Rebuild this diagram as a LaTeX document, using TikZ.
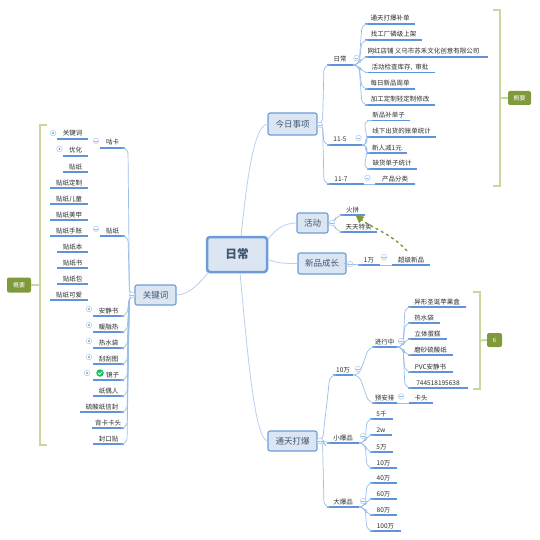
\documentclass[tikz,border=0pt]{standalone}
\usepackage{fontspec}
\setmainfont{Noto Sans CJK SC}
\usetikzlibrary{calc,arrows.meta}
\definecolor{ul}{HTML}{5F94DC}
\definecolor{cn}{HTML}{9BBDE8}
\definecolor{mc}{HTML}{B7D0F0}
\definecolor{bx}{HTML}{6B9CD8}
\definecolor{bf}{HTML}{DCE6F2}
\definecolor{bt}{HTML}{3F5573}
\definecolor{tx}{HTML}{2B2B2B}
\definecolor{ol}{HTML}{7F9A3A}
\definecolor{br}{HTML}{C6D89C}
\definecolor{okc}{HTML}{12C25E}
\tikzset{
  uline/.style={draw=ul,line width=1.1pt},
  leaf/.style={inner sep=0pt,outer sep=0pt,anchor=south,align=center,text=tx,
    font=\fontsize{6.5}{7}\selectfont,text height=6pt,text depth=3pt,
    append after command={(\tikzlastnode.south west) edge[uline] (\tikzlastnode.south east)}},
  conn/.style={draw=cn,line width=0.7pt,rounded corners=6pt},
  mainc/.style={draw=mc,line width=0.8pt},
  topic/.style={draw=bx,line width=1.1pt,fill=bf,rounded corners=2pt,inner sep=0pt,text=bt,
    font=\fontsize{8.5}{10}\selectfont},
  rootbox/.style={draw=bx,line width=2.5pt,fill=bf,rounded corners=3pt,inner sep=0pt,text=bt,
    font=\fontsize{11.7}{13}\selectfont\bfseries},
  coll/.style={circle,draw=mc,line width=0.6pt,fill=white,minimum size=5.6pt,inner sep=0pt,
    path picture={\draw[draw=cn,line width=0.5pt] ($(path picture bounding box.center)+(-1.8,0)$) -- ($(path picture bounding box.center)+(1.8,0)$);}},
  expd/.style={circle,draw=mc,line width=0.6pt,fill=white,minimum size=5.6pt,inner sep=0pt,
    path picture={\fill[fill=bx!70!black] (path picture bounding box.center) circle (0.9pt);}},
  brace/.style={draw=br,line width=2pt},
  tag/.style={fill=ol,rounded corners=2pt,inner sep=0pt,text=white,font=\fontsize{6}{7}\selectfont\itshape},
  depend/.style={draw=ol,line width=1.4pt,dashed,-{Triangle[length=8pt,width=8pt]}}
}
\newcommand{\leaf}[5]{\pgfmathsetmacro{\lw}{#3-#2}\pgfmathsetmacro{\lc}{(#2+#3)/2}\node[leaf,minimum width=\lw pt] (#1) at (\lc,#4) {#5};}
\newcommand{\topicnode}[6]{\pgfmathsetmacro{\lw}{#4-#2}\pgfmathsetmacro{\lh}{#5-#3}\pgfmathsetmacro{\lc}{(#2+#4)/2}\pgfmathsetmacro{\ld}{(#3+#5)/2}\node[topic,minimum width=\lw pt,minimum height=\lh pt] (#1) at (\lc,\ld) {#6};}
\newcommand{\rc}[2]{\draw[conn] (#1.south east) -- ++(6,0) -- ($(#2.south west)+(-3,0)$) -- (#2.south west);}
\newcommand{\lc}[2]{\draw[conn] (#1.south west) -- ++(-6,0) -- ($(#2.south east)+(3,0)$) -- (#2.south east);}
\newcommand{\rb}[2]{\draw[conn] (#1.east) -- ++(5,0) -- ($(#2.south west)+(-3,0)$) -- (#2.south west);}
\newcommand{\lb}[2]{\draw[conn] (#1.west) -- ++(-5,0) -- ($(#2.south east)+(3,0)$) -- (#2.south east);}
\newcommand{\mk}[4][coll]{\node[#1] (#2) at (#3,#4) {};}
\begin{document}
\begin{tikzpicture}[x=1pt,y=-1pt]
\useasboundingbox (0,0) rectangle (539,540);
% topics
\node[rootbox,minimum width=60pt,minimum height=35pt] (root) at (237,254.5) {日常};
\topicnode{today}{268}{113}{317}{135}{今日事项}
\topicnode{event}{297}{213}{328}{233}{活动}
\topicnode{growth}{298}{253}{346}{274}{新品成长}
\topicnode{boom}{268}{431}{317}{451}{通天打爆}
\topicnode{kw}{135}{285}{176}{305}{关键词}
\draw[mainc] ($(root.north)+(4,0)$) .. controls +(6,-55) and +(-14,2) .. (today.west);
\draw[mainc] ($(root.north east)+(0,3)$) .. controls +(8,-10) and +(-12,0) .. (event.west);
\draw[mainc] ($(root.east)+(0,5)$) .. controls +(10,4) and +(-12,0) .. (growth.west);
\draw[mainc] ($(root.south)+(3,0)$) .. controls +(6,60) and +(-14,-2) .. (boom.west);
\draw[mainc] ($(root.south west)+(2,0)$) .. controls +(-8,10) and +(12,0) .. (kw.east);
% today
\leaf{daily}{327}{353}{65}{日常}
\leaf{d1}{365}{415}{24}{通天打爆补单}
\leaf{d2}{365}{422}{40}{找工厂磷级上架}
\leaf{d3}{365}{488}{57}{\hspace{-6pt}网红店铺 义乌市苏禾文化创意有限公司}
\leaf{d4}{365}{435}{72.5}{活动检查库存,\hspace{3pt}审批}
\leaf{d5}{365}{415}{89}{每日新品周单}
\leaf{d6}{365}{435}{105}{加工定制轻定制修改}
\leaf{nov5}{327}{362}{145}{\hspace{-9pt}11-5}
\leaf{n1}{367}{410}{120.5}{新品补单子}
\leaf{n2}{367}{436}{137}{线下出货的账单统计}
\leaf{n3}{367}{407}{153}{新人减1元}
\leaf{n4}{367}{417}{169}{缺货单子统计}
\leaf{nov7}{327}{364}{184}{\hspace{-9pt}11-7}
\leaf{cat}{375}{415}{184}{产品分类}
\rb{today}{daily}\rb{today}{nov5}\rb{today}{nov7}
\rc{daily}{d1}\rc{daily}{d2}\rc{daily}{d3}\rc{daily}{d4}\rc{daily}{d5}\rc{daily}{d6}
\rc{nov5}{n1}\rc{nov5}{n2}\rc{nov5}{n3}\rc{nov5}{n4}
\draw[conn] (nov7.south east) -- (cat.south west);
\mk{ct}{320}{125}\mk{cd}{356.5}{58}\mk{cn5}{358.5}{138}\mk{cn7}{367.5}{178}
% event
\leaf{fire}{340}{365}{215}{火拼}
\leaf{sale}{340}{377}{232}{天天特卖}
\rb{event}{fire}\rb{event}{sale}
\mk{ce}{332}{223}
% growth
\leaf{wan}{358}{380}{265}{1万}
\leaf{super}{392}{430}{265}{超级新品}
\draw[conn] (growth.east) -- ++(3,0) -- ($(wan.south west)+(-3,0)$) -- (wan.south west);
\draw[conn] (wan.south east) -- (super.south west);
\mk{cg}{350}{264}\mk{cw}{384}{257}
\draw[depend] ($(super.north)+(-4,-5)$) .. controls (392,234) and (372,228) .. ($(fire.south)+(3,0)$);
% boom
\leaf{ten}{333}{353}{375}{10万}
\leaf{prog}{372}{397}{347}{进行中}
\leaf{plan}{372}{397}{403}{预安排}
\leaf{head}{409}{433}{403}{卡头}
\leaf{p1}{408}{466}{307}{异形圣诞苹果盒}
\leaf{p2}{408}{440}{323}{热水袋}
\leaf{p3}{408}{447}{339}{立体蛋糕}
\leaf{p4}{408}{453}{355}{磨砂硫酸纸}
\leaf{p5}{408}{453}{372}{PVC安静书}
\leaf{p6}{408}{468}{388}{744518195638}
\leaf{small}{327}{359}{443}{小爆品}
\leaf{s1}{370}{393}{419}{5千}
\leaf{s2}{370}{392}{435}{2w}
\leaf{s3}{370}{393}{452}{5万}
\leaf{s4}{370}{397}{468}{10万}
\leaf{big}{327}{359}{507}{大爆品}
\leaf{b1}{370}{397}{483}{40万}
\leaf{b2}{370}{397}{499}{60万}
\leaf{b3}{370}{397}{515}{80万}
\leaf{b4}{370}{401}{531}{100万}
\rb{boom}{ten}\rb{boom}{small}\rb{boom}{big}
\rc{ten}{prog}\rc{ten}{plan}
\draw[conn] (plan.south east) -- (head.south west);
\rc{prog}{p1}\rc{prog}{p2}\rc{prog}{p3}\rc{prog}{p4}\rc{prog}{p5}\rc{prog}{p6}
\rc{small}{s1}\rc{small}{s2}\rc{small}{s3}\rc{small}{s4}
\rc{big}{b1}\rc{big}{b2}\rc{big}{b3}\rc{big}{b4}
\mk{cb}{320}{441}\mk{cten}{358}{369}\mk{cprog}{401}{341}\mk{cplan}{401}{396.5}\mk{csmall}{363}{436}\mk{cbig}{363}{501}
% keywords
\leaf{guka}{100}{125}{148}{咕卡}
\leaf{kw1}{57}{88}{139}{关键词}
\leaf{kw2}{63}{88}{156}{优化}
\leaf{tie}{100}{125}{236}{贴纸}
\leaf{t1}{63}{88}{172}{贴纸}
\leaf{t2}{50}{88}{188}{贴纸定制}
\leaf{t3}{50}{88}{204}{贴纸儿童}
\leaf{t4}{50}{88}{220}{贴纸美甲}
\leaf{t5}{50}{88}{236}{贴纸手账}
\leaf{t6}{57}{88}{252}{贴纸本}
\leaf{t7}{57}{88}{268}{贴纸书}
\leaf{t8}{57}{88}{284}{贴纸包}
\leaf{t9}{50}{88}{300}{贴纸可爱}
\leaf{k1}{93}{124}{316}{安静书}
\leaf{k2}{93}{124}{332}{暖融热}
\leaf{k3}{93}{124}{348}{热水袋}
\leaf{k4}{93}{124}{364}{刮刮图}
\leaf{k5}{93}{124}{380}{\hspace{8pt}镜子}
\leaf{k6}{93}{124}{396}{纸偶人}
\leaf{k7}{80}{124}{412}{硫酸纸信封}
\leaf{k8}{92}{124}{428}{背卡卡头}
\leaf{k9}{93}{124}{444}{封口贴}
\lb{kw}{guka}\lb{kw}{tie}
\lb{kw}{k1}\lb{kw}{k2}\lb{kw}{k3}\lb{kw}{k4}\lb{kw}{k5}\lb{kw}{k6}\lb{kw}{k7}\lb{kw}{k8}\lb{kw}{k9}
\lc{guka}{kw1}\lc{guka}{kw2}
\lc{tie}{t1}\lc{tie}{t2}\lc{tie}{t3}\lc{tie}{t4}\lc{tie}{t5}\lc{tie}{t6}\lc{tie}{t7}\lc{tie}{t8}\lc{tie}{t9}
\mk{ck}{132}{295}\mk{cgu}{96}{141}\mk{cti}{96}{229}
\mk[expd]{e1}{53}{133}\mk[expd]{e2}{59.5}{149}
\mk[expd]{e3}{89}{309}\mk[expd]{e4}{89}{325}\mk[expd]{e5}{89}{341}\mk[expd]{e6}{89}{357}\mk[expd]{e7}{87}{373}
\node[circle,fill=okc,minimum size=7.5pt,inner sep=0pt] (done) at (100,373) {};
\draw[white,line width=0.8pt] ($(done.center)+(-1.8,0)$) -- ($(done.center)+(-0.4,1.4)$) -- ($(done.center)+(1.9,-1.2)$);
% summaries
\node[tag,minimum width=23pt,minimum height=14pt] (sumr) at (519.5,98) {概要};
\draw[brace] (493,10) -- (500,10) -- (500,186) -- (493,186);
\draw[brace] (500,98) -- (sumr.west);
\node[tag,minimum width=15pt,minimum height=14pt] (sumc) at (494.5,340) {6};
\draw[brace] (473,292) -- (480,292) -- (480,389) -- (473,389);
\draw[brace] (480,340.5) -- (sumc.west);
\node[tag,minimum width=24pt,minimum height=15pt] (suml) at (19,285) {概要};
\draw[brace] (47,125) -- (40,125) -- (40,445) -- (47,445);
\draw[brace] (40,285) -- (suml.east);
\end{tikzpicture}
\end{document}
